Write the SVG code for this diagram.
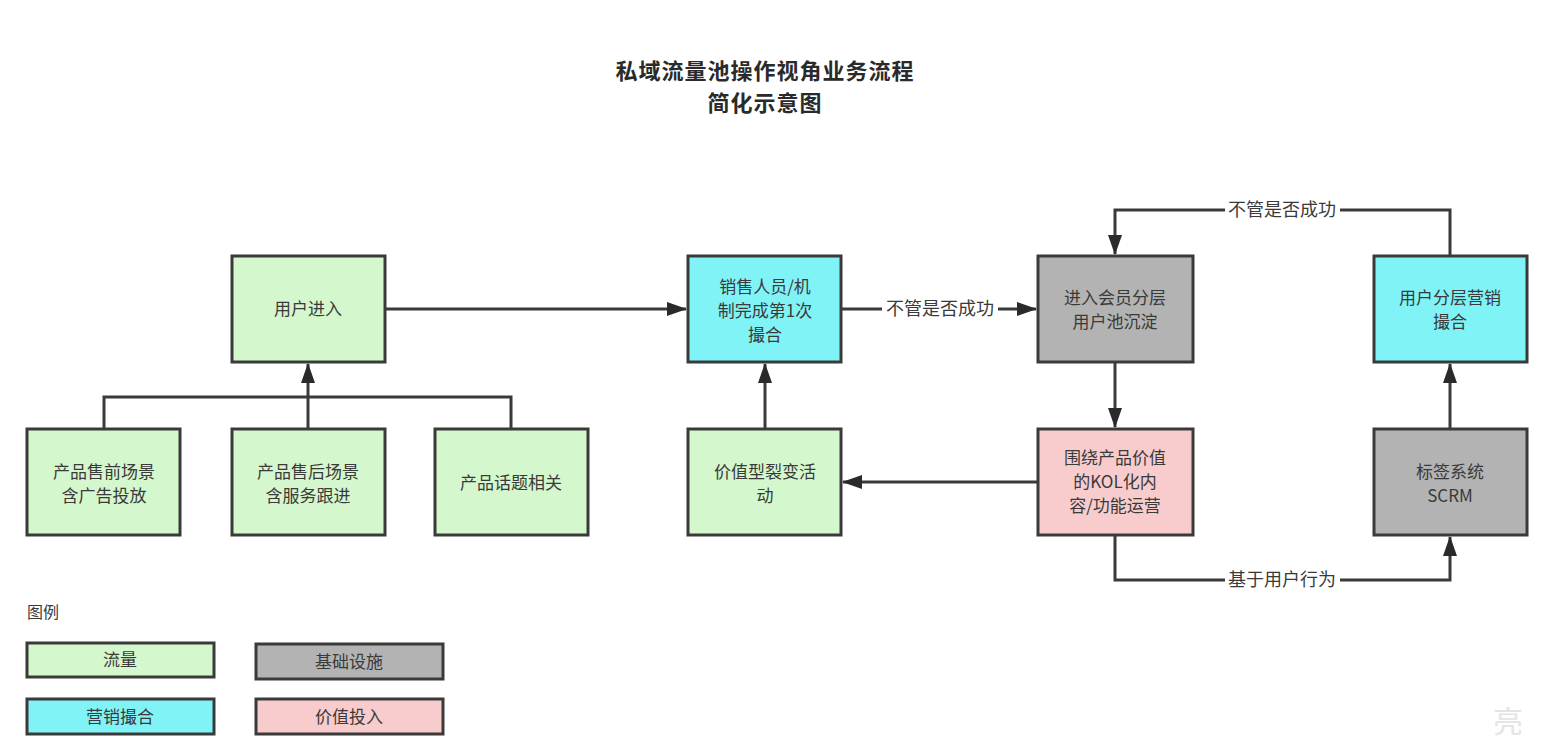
<svg xmlns="http://www.w3.org/2000/svg" width="1548" height="742" viewBox="0 0 1548 742">
<style>
.bg{fill:#ffffff}
.n rect{stroke:#3a3a3a;stroke-width:3}
.g{fill:#d5f7cd}
.c{fill:#80f3f7}
.y{fill:#b3b3b3}
.p{fill:#f8cccc}
text{font-family:"Noto Sans CJK SC","Liberation Sans",sans-serif;fill:#3a3a3a;font-size:17px;text-anchor:middle}
.t{font-size:22px;font-weight:bold;fill:#2a2a2a;letter-spacing:1px}
.lbl{font-size:18px}
.e path{fill:none;stroke:#3a3a3a;stroke-width:3}
</style>
<defs>
<marker id="ah" viewBox="0 0 20 14" refX="19" refY="7" markerWidth="20" markerHeight="14" markerUnits="userSpaceOnUse" orient="auto">
<path d="M0,0 L20,7 L0,14 Z" fill="#2a2a2a"/>
</marker>
</defs>
<rect class="bg" x="0" y="0" width="1548" height="742"/>
<g id="title">
<text class="t" x="765" y="79">私域流量池操作视角业务流程</text>
<text class="t" x="765" y="111">简化示意图</text>
</g>
<g id="edges" class="e">
<path d="M104,429 V397 H511 V429"/>
<path d="M308,429 V364" marker-end="url(#ah)"/>
<path d="M385,309 H686" marker-end="url(#ah)"/>
<path d="M841,309 H882"/>
<path d="M998,309 H1036" marker-end="url(#ah)"/>
<path d="M1115,362 V427" marker-end="url(#ah)"/>
<path d="M1038,482 H843" marker-end="url(#ah)"/>
<path d="M765,429 V364" marker-end="url(#ah)"/>
<path d="M1450,429 V364" marker-end="url(#ah)"/>
<path d="M1115,535 V580 H1225"/>
<path d="M1340,580 H1450 V537" marker-end="url(#ah)"/>
<path d="M1450,256 V210 H1340"/>
<path d="M1225,210 H1115 V254" marker-end="url(#ah)"/>
<text class="lbl" x="940" y="315">不管是否成功</text>
<text class="lbl" x="1282" y="216">不管是否成功</text>
<text class="lbl" x="1282" y="586">基于用户行为</text>
</g>
<g id="n1" class="n"><rect class="g" x="232" y="256" width="153" height="106"/><text x="308" y="315">用户进入</text></g>
<g id="n2" class="n"><rect class="g" x="27" y="429" width="153" height="106"/><text x="104" y="478">产品售前场景</text><text x="104" y="502">含广告投放</text></g>
<g id="n3" class="n"><rect class="g" x="232" y="429" width="153" height="106"/><text x="308" y="478">产品售后场景</text><text x="308" y="502">含服务跟进</text></g>
<g id="n4" class="n"><rect class="g" x="435" y="429" width="153" height="106"/><text x="511" y="489">产品话题相关</text></g>
<g id="n5" class="n"><rect class="c" x="688" y="256" width="153" height="106"/><text x="765" y="293">销售人员/机</text><text x="765" y="317">制完成第1次</text><text x="765" y="341">撮合</text></g>
<g id="n6" class="n"><rect class="y" x="1038" y="256" width="155" height="106"/><text x="1115" y="304">进入会员分层</text><text x="1115" y="328">用户池沉淀</text></g>
<g id="n7" class="n"><rect class="p" x="1038" y="429" width="155" height="106"/><text x="1115" y="464">围绕产品价值</text><text x="1115" y="488">的KOL化内</text><text x="1115" y="512">容/功能运营</text></g>
<g id="n8" class="n"><rect class="g" x="688" y="429" width="153" height="106"/><text x="765" y="478">价值型裂变活</text><text x="765" y="502">动</text></g>
<g id="n9" class="n"><rect class="c" x="1374" y="256" width="153" height="106"/><text x="1450" y="304">用户分层营销</text><text x="1450" y="328">撮合</text></g>
<g id="n10" class="n"><rect class="y" x="1374" y="429" width="153" height="106"/><text x="1450" y="478">标签系统</text><text x="1450" y="502">SCRM</text></g>
<g id="legend">
<text x="27" y="618" style="text-anchor:start;font-size:16px">图例</text>
<g id="lg1" class="n"><rect class="g" x="27" y="643" width="187" height="34"/><text x="120" y="666">流量</text></g>
<g id="lg2" class="n"><rect class="y" x="256" y="644" width="187" height="35"/><text x="349" y="668">基础设施</text></g>
<g id="lg3" class="n"><rect class="c" x="27" y="699" width="187" height="35"/><text x="120" y="723">营销撮合</text></g>
<g id="lg4" class="n"><rect class="p" x="256" y="699" width="187" height="35"/><text x="349" y="723">价值投入</text></g>
</g>
<text x="1493" y="732" style="text-anchor:start;font-size:30px;fill:#e4e4e4">亮</text>
</svg>
